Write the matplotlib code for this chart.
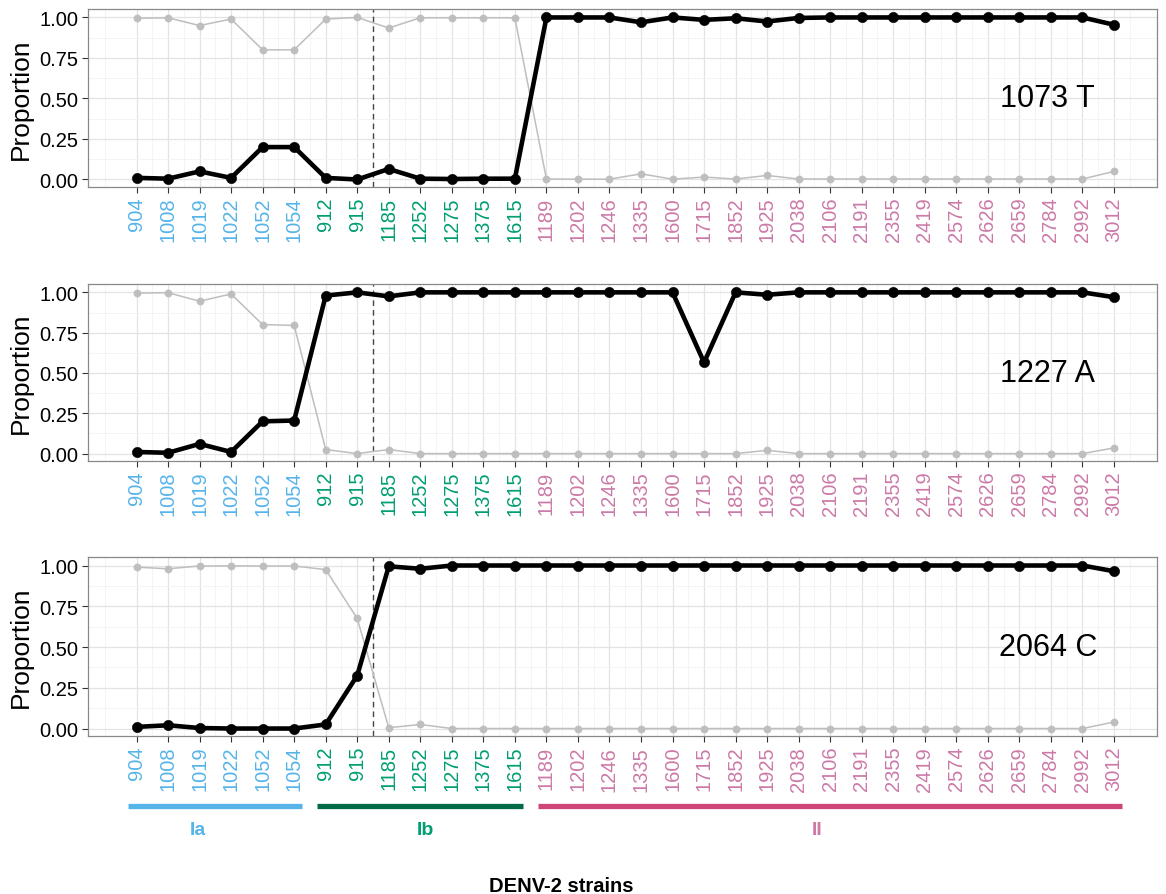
import numpy as np
import matplotlib.pyplot as plt

plt.rcParams["font.family"] = ["Liberation Sans", "DejaVu Sans"]

# Strains on the x axis, grouped by genotype
strains = ["904", "1008", "1019", "1022", "1052", "1054",
           "912", "915", "1185", "1252", "1275", "1375", "1615",
           "1189", "1202", "1246", "1335", "1600", "1715", "1852", "1925",
           "2038", "2106", "2191", "2355", "2419", "2574", "2626", "2659",
           "2784", "2992", "3012"]
groups = ["Ia"] * 6 + ["Ib"] * 7 + ["II"] * 19

group_names = ["Ia", "Ib", "II"]
label_colors = {"Ia": "#56B4E9", "Ib": "#009E73", "II": "#CC79A7"}
bar_colors = {"Ia": "#56B4E9", "Ib": "#006B45", "II": "#CF4479"}
# where the genotype names sit along the strain axis
label_x = {"Ia": 1.95, "Ib": 9.15, "II": 21.6}

# Proportions per site: main allele (black) and the other (grey)
site_names = ["1073 T", "1227 A", "2064 C"]

t1073 = [0.01, 0.005, 0.05, 0.01, 0.20, 0.20, 0.01, 0.0, 0.065, 0.005, 0.003, 0.005, 0.005,
         1.0, 1.0, 1.0, 0.97, 1.0, 0.985, 0.995, 0.975, 0.997, 1.0, 1.0, 1.0, 1.0, 1.0, 1.0,
         1.0, 1.0, 1.0, 0.955]
o1073 = [0.995, 0.998, 0.95, 0.99, 0.80, 0.80, 0.99, 1.0, 0.935, 0.998, 0.998, 0.998, 0.998,
         0.003, 0.002, 0.002, 0.035, 0.002, 0.015, 0.003, 0.025, 0.003, 0.003, 0.003, 0.003,
         0.003, 0.003, 0.003, 0.003, 0.003, 0.003, 0.05]

a1227 = [0.01, 0.005, 0.06, 0.01, 0.20, 0.205, 0.98, 1.0, 0.975, 1.0, 1.0, 1.0, 1.0,
         1.0, 1.0, 1.0, 1.0, 1.0, 0.565, 1.0, 0.985, 1.0, 1.0, 1.0, 1.0, 1.0, 1.0, 1.0,
         1.0, 1.0, 1.0, 0.97]
o1227 = [0.995, 0.998, 0.945, 0.99, 0.80, 0.795, 0.025, 0.0, 0.025, 0.0, 0.0, 0.0, 0.0,
         0.0, 0.0, 0.0, 0.0, 0.0, 0.0, 0.0, 0.02, 0.0, 0.0, 0.0, 0.0, 0.0, 0.0, 0.0,
         0.0, 0.0, 0.0, 0.035]

c2064 = [0.01, 0.02, 0.003, 0.0, 0.0, 0.0, 0.025, 0.325, 0.995, 0.98, 1.0, 1.0, 1.0,
         1.0, 1.0, 1.0, 1.0, 1.0, 1.0, 1.0, 1.0, 1.0, 1.0, 1.0, 1.0, 1.0, 1.0, 1.0,
         1.0, 1.0, 1.0, 0.965]
o2064 = [0.99, 0.98, 0.997, 0.998, 0.997, 0.997, 0.975, 0.675, 0.005, 0.025, 0.0, 0.0, 0.0,
         0.0, 0.0, 0.0, 0.0, 0.0, 0.0, 0.0, 0.0, 0.0, 0.0, 0.0, 0.0, 0.0, 0.0, 0.0,
         0.0, 0.0, 0.0, 0.04]

main_series = [t1073, a1227, c2064]
other_series = [o1073, o1227, o2064]

x = np.arange(len(strains))
xlim = (-1.53, len(strains) + 0.38)

fig = plt.figure(figsize=(11.66, 8.95), dpi=100)

# panel positions [left, bottom, width, height]
panel_pos = [[0.0757, 0.790, 0.917, 0.1988],
             [0.0757, 0.4838, 0.917, 0.1978],
             [0.0757, 0.1765, 0.917, 0.2000]]

for pos, name, main, other in zip(panel_pos, site_names, main_series, other_series):
    ax = fig.add_axes(pos)
    ax.set_xlim(*xlim)
    ax.set_ylim(-0.046, 1.052)

    ax.set_yticks([0, 0.25, 0.5, 0.75, 1.0])
    ax.set_yticklabels(["0.00", "0.25", "0.50", "0.75", "1.00"], fontsize=14.5)
    ax.set_yticks([0.125, 0.375, 0.625, 0.875], minor=True)
    ax.set_xticks(x)
    ax.set_xticklabels(strains, rotation=90, fontsize=14.5)
    ax.set_xticks(np.concatenate([[-1.0], x[:-1] + 0.5, [len(strains) - 0.5]]), minor=True)
    for lbl, g in zip(ax.get_xticklabels(), groups):
        lbl.set_color(label_colors[g])

    ax.grid(True, which="major", color="#E3E3E3", lw=0.9)
    ax.grid(True, which="minor", color="#F3F3F3", lw=0.6)
    ax.set_axisbelow(True)
    ax.tick_params(which="minor", length=0)
    ax.tick_params(which="major", length=4, color="#333333", width=0.8, pad=3)
    for s in ax.spines.values():
        s.set_color("#888888")
        s.set_linewidth(0.9)

    ax.axvline(7.5, color="#444444", ls=(0, (4, 3)), lw=1.0)
    ax.plot(x, other, color="#BEBEBE", lw=1.1, marker="o", ms=5.2, mew=0.4, zorder=3)
    ax.plot(x, main, color="black", lw=3.3, marker="o", ms=7.4, mew=0.4, zorder=4)

    ax.text(28.9, 0.5, name, fontsize=22, ha="center", va="center")
    ax.set_ylabel("Proportion", fontsize=19, labelpad=5)

# genotype bars below the last panel
bax = fig.add_axes([0.0757, 0.039, 0.917, 0.078])
bax.set_xlim(*xlim)
bax.set_ylim(0, 1)
bax.axis("off")
for g in group_names:
    idx = [i for i, gg in enumerate(groups) if gg == g]
    start, end = idx[0] - 0.27, idx[-1] + 0.25
    bax.plot([start, end], [0.76, 0.76], color=bar_colors[g], lw=3.8, solid_capstyle="butt")
    bax.text(label_x[g], 0.43, g, color=label_colors[g], fontsize=14,
             fontweight="bold", ha="center", va="center")

fig.text(0.481, 0.01, "DENV-2 strains", fontsize=14.5, fontweight="bold", ha="center", va="center")

fig.savefig("out.png", dpi=100)
